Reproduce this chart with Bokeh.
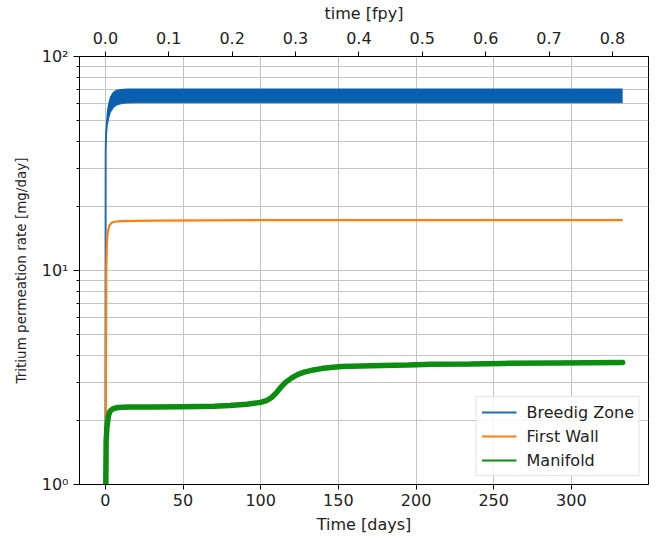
from bokeh.plotting import figure
from bokeh.models import (Range1d, LinearAxis, FixedTicker, CustomJSTickFormatter,
                          Legend, LegendItem)
from bokeh.embed import file_html
from bokeh.resources import INLINE

# ---------------- data ----------------
DAYS_PER_FPY = 408.0

blue_t  = [0, 0.2, 0.5, 1, 2, 3, 5, 7, 10, 14, 20, 100, 200, 333]
blue_lo = [0.5, 36, 44, 48, 52, 55, 58, 59.5, 60.5, 61.0, 61.2, 61.2, 61.2, 61.2]
blue_hi = [0.5, 40, 50, 56, 61, 65, 68.5, 70.0, 70.5, 70.8, 70.8, 70.8, 70.8, 70.8]

orange_t = [0, 0.3, 0.6, 1, 1.5, 2.5, 4, 6, 10, 30, 100, 200, 333]
orange_v = [0.5, 2.0, 10, 13.5, 15.0, 16.2, 16.7, 16.9, 17.0, 17.1, 17.2, 17.2, 17.2]

green_t = [0, 0.5, 1, 2, 3, 5, 8, 15, 30, 50, 70, 80, 91, 100, 104, 107, 110, 113,
           116, 120, 124, 128, 134, 139, 145, 152, 165, 178, 195, 210, 235, 256, 290, 333]
green_v = [0.5, 1.6, 1.85, 2.1, 2.2, 2.26, 2.29, 2.3, 2.3, 2.31, 2.32, 2.34, 2.37, 2.42,
           2.47, 2.55, 2.68, 2.85, 3.0, 3.15, 3.27, 3.35, 3.43, 3.48, 3.52, 3.56, 3.58,
           3.6, 3.62, 3.65, 3.66, 3.68, 3.7, 3.72]

day_ticks = [0, 50, 100, 150, 200, 250, 300]
fpy_ticks = [0.0, 0.1, 0.2, 0.3, 0.4, 0.5, 0.6, 0.7, 0.8]
y_major = [1, 10, 100]
y_minor = [2, 3, 4, 5, 6, 7, 8, 9, 20, 30, 40, 50, 60, 70, 80, 90]

labels = ["Breedig Zone", "First Wall", "Manifold"]
BLUE, BLUE_BAND = "#1f6fb8", "#0a5fae"
ORANGE = "#ff7f0e"
GREEN = "#0d8c12"

X0, X1 = -16.65, 349.65
FONT = "DejaVu Sans"
FS = "16px"

p = figure(frame_width=569, frame_height=428, y_axis_type="log",
           x_range=Range1d(X0, X1), y_range=Range1d(1, 100),
           output_backend="svg", toolbar_location=None,
           min_border_left=79, min_border_top=56, min_border_bottom=50, min_border_right=8,
           x_axis_label="Time [days]", y_axis_label="Tritium permeation rate [mg/day]")

bottom = p.below[0]
yax = p.left[0]

# top axis: fpy ticks placed at their day positions on the shared x range
top = LinearAxis(axis_label="time [fpy]",
                 ticker=FixedTicker(ticks=[f * DAYS_PER_FPY for f in fpy_ticks]),
                 formatter=CustomJSTickFormatter(
                     args=dict(k=DAYS_PER_FPY),
                     code="return (Math.round(tick / k * 10) / 10).toFixed(1);"))
p.add_layout(top, "above")

bottom.ticker = FixedTicker(ticks=day_ticks)
yax.ticker = FixedTicker(ticks=y_major, minor_ticks=y_minor)
yax.formatter = CustomJSTickFormatter(code="""
const sup = {'0':'\u2070','1':'\u00b9','2':'\u00b2','3':'\u00b3','-':'\u207b'};
const e = Math.round(Math.log10(tick));
return '10' + String(e).split('').map(c => sup[c] || c).join('');
""")

for ax in (bottom, yax, top):
    ax.axis_label_text_font = FONT
    ax.axis_label_text_font_size = FS
    ax.axis_label_text_font_style = "normal"
    ax.axis_label_text_color = "#222222"
    ax.major_label_text_font = FONT
    ax.major_label_text_font_size = FS
    ax.major_label_text_color = "#222222"
    ax.axis_line_color = "black"
    ax.major_tick_line_color = "black"
    ax.major_tick_in = 0
    ax.major_tick_out = 5
    ax.minor_tick_in = 0
    ax.minor_tick_out = 3
    ax.minor_tick_line_color = None
    ax.major_label_standoff = 4
    ax.axis_label_standoff = 6
yax.minor_tick_line_color = "black"
yax.major_tick_out = 6
yax.major_label_standoff = 5
yax.axis_label_standoff = 10
yax.axis_label_text_font_size = "13.5px"
top.major_label_standoff = 8
top.axis_label_standoff = 6

p.outline_line_color = "black"
p.outline_line_alpha = 1

p.xgrid.ticker = FixedTicker(ticks=day_ticks)
p.xgrid.grid_line_color = "#c4c4c4"
p.ygrid.ticker = FixedTicker(ticks=y_major, minor_ticks=y_minor)
p.ygrid.grid_line_color = "#c4c4c4"
p.ygrid.minor_grid_line_color = "#c4c4c4"
for g in (p.xgrid[0], p.ygrid[0]):
    g.grid_line_width = 1

# blue: thin line + band
r_blue = p.line(blue_t, blue_lo, line_color=BLUE, line_width=2)
p.varea(x=blue_t, y1=blue_lo, y2=blue_hi, fill_color=BLUE_BAND)
# orange
r_orange = p.line(orange_t, orange_v, line_color=ORANGE, line_width=2.2)
# green: thin line for legend, thick for the plot
r_green = p.line(green_t, green_v, line_color=GREEN, line_width=2)
p.line(green_t, green_v, line_color=GREEN, line_width=5.5, line_cap="round")

legend = Legend(items=[LegendItem(label=labels[0], renderers=[r_blue]),
                       LegendItem(label=labels[1], renderers=[r_orange]),
                       LegendItem(label=labels[2], renderers=[r_green])],
                location="bottom_right")
legend.label_text_font = FONT
legend.label_text_font_size = FS
legend.label_text_color = "#222222"
legend.border_line_color = "#cccccc"
legend.background_fill_alpha = 0.85
legend.glyph_width = 35
legend.glyph_height = 20
legend.label_height = 20
legend.spacing = 4
legend.padding = 5
legend.margin = 8
legend.label_standoff = 10
p.add_layout(legend)

open("out.html", "w").write(file_html(p, INLINE))
